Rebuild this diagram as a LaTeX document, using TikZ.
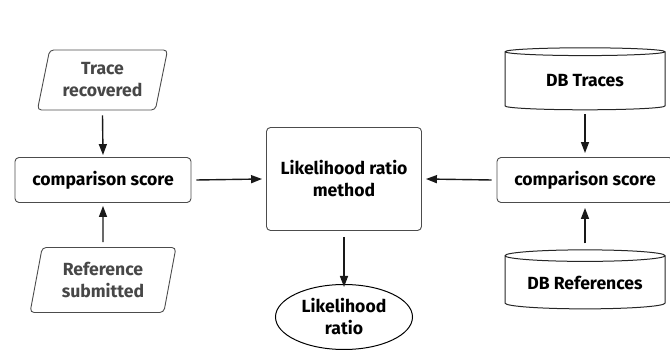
\documentclass[tikz,border=0pt]{standalone}
\usepackage{fontspec}
\setmainfont{Fira Sans}
\usetikzlibrary{positioning, shapes.geometric, arrows.meta}

\tikzset{
    box/.style={draw=black!70, line width=0.9pt, rounded corners=4pt, align=center, font=\bfseries\fontsize{17.6}{22}\selectfont, inner sep=0pt},
    inputbox/.style={box, trapezium, trapezium stretches=true, text=black!72},
    dbbox/.style={box, rounded corners=0pt, cylinder, shape border rotate=90, aspect=0.1, draw=black!85, line width=1pt},
    flow/.style={-{Triangle[length=11pt,width=8pt]}, line width=1.4pt, black!90}
}

\begin{document}
\begin{tikzpicture}[x=1pt, y=-1pt]
    \useasboundingbox (0,0) rectangle (670,352);
    % central part
    \node[box, minimum width=155pt, minimum height=103pt] (lrm) at (344,179) {Likelihood ratio\\method};
    \node[box, ellipse, rounded corners=0pt, draw=black, line width=1pt, minimum width=137pt, minimum height=65pt] (lr) at (344,317) {Likelihood\\ratio};
    % left branch
    \node[box, minimum width=176pt, minimum height=45pt] (cmpl) at (103,180) {comparison score};
    \node[inputbox, trapezium left angle=75, trapezium right angle=105, minimum width=131pt, minimum height=60pt] (trace) at (102.5,80) {Trace\\recovered};
    \node[inputbox, trapezium left angle=77, trapezium right angle=103, minimum width=146pt, minimum height=65pt] (ref) at (103,280) {Reference\\submitted};
    % right branch
    \node[box, minimum width=176pt, minimum height=45pt] (cmpr) at (585,180) {comparison score};
    \node[dbbox, minimum width=160pt, minimum height=62pt] (dbt) at (585,81) {DB Traces};
    \node[dbbox, minimum width=160pt, minimum height=59pt] (dbr) at (585,282.5) {DB References};

    \draw[flow] ([yshift=-5pt]trace.south) -- ([yshift=2pt]cmpl.north);
    \draw[flow] ([yshift=5pt]ref.north) -- ([yshift=-3pt]cmpl.south);
    \draw[flow] ([xshift=5pt]cmpl.east) -- ([xshift=-4pt]lrm.west);
    \draw[flow] ([xshift=-5pt]cmpr.west) -- ([xshift=4pt]lrm.east);
    \draw[flow] ([yshift=-6pt]lrm.south) -- ([yshift=-3pt]lr.north);
    \draw[flow] ([yshift=-4pt]dbt.south) -- ([yshift=4pt]cmpr.north);
    \draw[flow] ([yshift=6pt]dbr.north) -- ([yshift=-5pt]cmpr.south);
\end{tikzpicture}
\end{document}
